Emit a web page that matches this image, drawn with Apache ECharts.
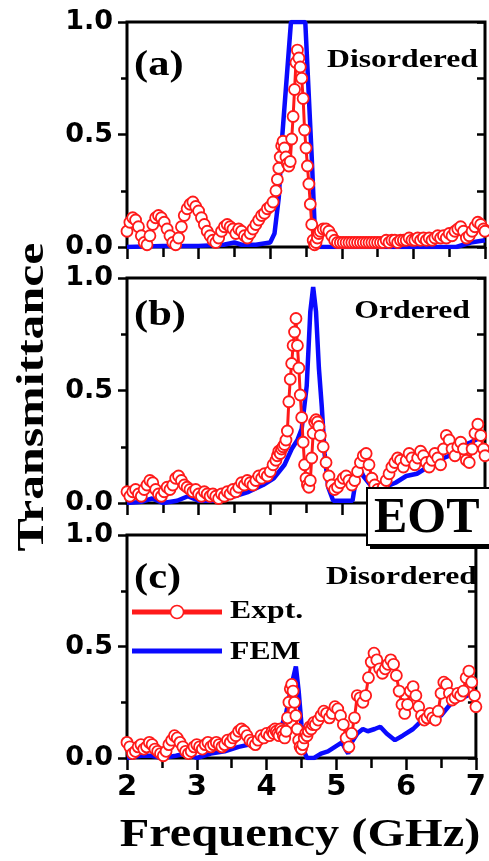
<!DOCTYPE html>
<html>
<head>
<meta charset="utf-8">
<script src="https://cdn.jsdelivr.net/npm/echarts/dist/echarts.min.js"></script>
<style>
  html, body { margin: 0; padding: 0; background: #fff; }
  #chart { width: 489px; height: 861px; }
</style>
</head>
<body>
<div id="chart"></div>
<script>
// Measured frequency sweep (GHz), shared by the three experimental traces
const exptFreq = [
  2.00,2.04,2.08,2.12,2.16,2.20,2.24,2.28,2.32,2.36,
  2.40,2.44,2.48,2.52,2.56,2.60,2.64,2.68,2.72,2.76,
  2.80,2.84,2.88,2.92,2.96,3.00,3.04,3.08,3.12,3.16,
  3.20,3.24,3.28,3.32,3.36,3.40,3.44,3.48,3.52,3.56,
  3.60,3.64,3.68,3.72,3.76,3.80,3.84,3.88,3.92,3.96,
  4.00,4.04,4.08,
  4.10,4.12,4.14,4.16,4.18,4.20,4.22,4.24,4.26,4.28,
  4.30,4.32,4.34,4.36,4.38,4.40,4.42,4.44,4.46,4.48,
  4.50,4.52,4.54,4.56,4.58,4.60,4.62,4.64,4.66,4.68,4.70,
  4.74,4.78,4.82,4.86,4.90,4.94,4.98,
  5.02,5.06,5.10,5.14,5.18,5.22,5.26,5.30,5.34,5.38,
  5.42,5.46,5.50,5.54,5.58,5.62,5.66,5.70,5.74,5.78,
  5.82,5.86,5.90,5.94,5.98,
  6.02,6.06,6.10,6.14,6.18,6.22,6.26,6.30,6.34,6.38,
  6.42,6.46,6.50,6.54,6.58,6.62,6.66,6.70,6.74,6.78,
  6.82,6.86,6.90,6.94,6.98,
  7.00
];

// (a) disordered - measured transmittance
const exptA = [
  0.07,0.11,0.13,0.12,0.09,0.05,0.02,0.01,0.05,0.10,
  0.13,0.14,0.13,0.11,0.08,0.05,0.02,0.01,0.04,0.09,
  0.14,0.17,0.19,0.20,0.18,0.16,0.13,0.10,0.07,0.05,
  0.03,0.02,0.04,0.07,0.09,0.10,0.09,0.08,0.06,0.08,
  0.07,0.05,0.04,0.06,0.08,0.10,0.12,0.14,0.15,0.17,
  0.18,0.20,0.25,
  0.30,0.35,0.40,0.45,0.47,0.44,0.40,0.37,0.36,0.38,
  0.48,0.58,0.70,0.82,0.875,0.84,0.80,0.75,0.66,0.52,
  0.44,0.36,0.28,0.19,0.10,0.03,0.01,0.02,0.04,0.06,0.07,
  0.08,0.08,0.07,0.05,0.03,0.02,0.02,
  0.02,0.02,0.02,0.02,0.02,0.02,0.02,0.02,0.02,0.02,
  0.02,0.02,0.02,0.02,0.02,0.03,0.02,0.03,0.03,0.02,
  0.03,0.03,0.03,0.04,0.03,
  0.03,0.04,0.03,0.04,0.03,0.04,0.03,0.04,0.05,0.04,
  0.05,0.04,0.06,0.05,0.07,0.08,0.09,0.07,0.04,0.05,
  0.07,0.09,0.11,0.10,0.08,
  0.07
];

// (b) ordered - measured transmittance
const exptB = [
  0.05,0.03,0.05,0.06,0.04,0.03,0.06,0.08,0.10,0.09,
  0.06,0.04,0.03,0.05,0.07,0.06,0.08,0.11,0.12,0.10,
  0.08,0.07,0.06,0.05,0.06,0.04,0.03,0.05,0.04,0.03,
  0.04,0.03,0.02,0.04,0.03,0.05,0.04,0.06,0.05,0.07,
  0.09,0.08,0.10,0.09,0.08,0.10,0.12,0.11,0.13,0.12,
  0.14,0.17,0.19,
  0.21,0.23,0.22,0.24,0.25,0.26,0.28,0.32,0.45,0.55,
  0.62,0.70,0.76,0.82,0.70,0.60,0.48,0.38,0.27,0.17,
  0.11,0.08,0.07,0.10,0.20,0.31,0.36,0.37,0.36,0.34,0.30,
  0.25,0.18,0.12,0.08,0.06,0.07,0.09,
  0.11,0.12,0.10,0.08,0.10,0.14,0.18,0.21,0.22,0.17,
  0.11,0.08,0.06,0.05,0.07,0.10,0.13,0.16,0.18,0.20,
  0.19,0.16,0.19,0.22,0.20,
  0.17,0.20,0.23,0.21,0.18,0.16,0.19,0.22,0.20,0.17,
  0.24,0.30,0.28,0.24,0.21,0.25,0.27,0.24,0.19,0.18,
  0.24,0.31,0.35,0.30,0.24,
  0.21
];

// (c) disordered - measured transmittance
const exptC = [
  0.07,0.05,0.02,0.03,0.05,0.06,0.04,0.05,0.07,0.06,
  0.04,0.03,0.02,0.01,0.03,0.06,0.08,0.10,0.09,0.07,
  0.05,0.03,0.02,0.03,0.05,0.06,0.05,0.04,0.06,0.07,
  0.05,0.06,0.07,0.06,0.05,0.06,0.08,0.07,0.09,0.10,
  0.12,0.13,0.12,0.10,0.08,0.07,0.06,0.08,0.10,0.09,
  0.11,0.10,0.12,
  0.11,0.13,0.12,0.11,0.10,0.13,0.12,0.10,0.09,0.12,
  0.18,0.25,0.31,0.33,0.30,0.25,0.19,0.13,0.08,0.05,
  0.04,0.06,0.09,0.11,0.10,0.12,0.14,0.13,0.15,0.16,0.15,
  0.17,0.19,0.21,0.20,0.18,0.20,0.23,
  0.22,0.19,0.15,0.09,0.05,0.11,0.18,0.28,0.27,0.25,
  0.28,0.36,0.43,0.47,0.44,0.40,0.38,0.40,0.42,0.44,
  0.42,0.37,0.30,0.24,0.20,
  0.24,0.30,0.32,0.28,0.23,0.19,0.17,0.18,0.20,0.18,
  0.17,0.21,0.29,0.34,0.33,0.29,0.26,0.27,0.29,0.28,
  0.30,0.36,0.39,0.34,0.28,
  0.23
];

// FEM simulation, [frequency GHz, transmittance]
const femA = [[2.0,0.0],[2.5,0.005],[3.0,0.005],[3.35,0.01],[3.5,0.02],[3.6,0.01],[3.8,0.01],
  [4.0,0.02],[4.06,0.06],[4.12,0.22],[4.17,0.5],[4.29,1.0],[4.49,1.0],[4.58,0.4],[4.62,0.1],
  [4.65,0.0],[6.6,0.0],[6.8,0.02],[7.0,0.03]];

const femB = [[2.0,0.0],[2.2,0.005],[2.35,0.02],[2.5,0.0],[2.7,0.01],[2.85,0.03],[3.0,0.01],
  [3.2,0.01],[3.5,0.03],[3.7,0.05],[3.9,0.08],[4.05,0.11],[4.2,0.17],[4.3,0.24],[4.38,0.28],
  [4.44,0.33],[4.51,0.52],[4.56,0.85],[4.6,0.96],[4.64,0.85],[4.68,0.6],[4.72,0.43],[4.76,0.22],
  [4.81,0.07],[4.88,0.01],[5.15,0.01],[5.23,0.17],[5.3,0.12],[5.4,0.08],[5.5,0.06],[5.6,0.07],
  [5.75,0.09],[5.9,0.12],[6.05,0.13],[6.2,0.16],[6.35,0.19],[6.5,0.21],[6.65,0.25],[6.8,0.27],[7.0,0.3]];

const femC = [[2.0,0.0],[2.2,0.01],[2.35,0.01],[2.5,0.0],[2.7,0.01],[2.85,0.02],[3.0,0.0],
  [3.2,0.02],[3.4,0.03],[3.6,0.05],[3.75,0.06],[3.9,0.07],[4.05,0.09],[4.2,0.13],[4.28,0.2],
  [4.36,0.33],[4.42,0.41],[4.46,0.30],[4.5,0.15],[4.55,0.02],[4.58,0.0],[4.68,0.0],[4.78,0.02],
  [4.88,0.03],[4.98,0.05],[5.08,0.07],[5.13,0.04],[5.17,0.02],[5.22,0.07],[5.3,0.11],[5.38,0.13],
  [5.45,0.12],[5.55,0.13],[5.63,0.14],[5.72,0.11],[5.84,0.08],[5.95,0.1],[6.1,0.13],[6.23,0.17],
  [6.35,0.18],[6.5,0.19],[6.63,0.24],[6.75,0.26],[6.88,0.28],[7.0,0.3]];

const panelTags = ['(a)', '(b)', '(c)'];
const panelNotes = ['Disordered', 'Ordered', 'Disordered'];
const seriesNames = ['Expt.', 'FEM'];
const xTitle = 'Frequency (GHz)';
const yTitle = 'Transmittance';
const boxLabel = 'EOT';

const RED = '#ff1a1a';
const BLUE = '#0a0aff';
const SERIF = '"Liberation Serif", "Times New Roman", serif';
const SANS = '"DejaVu Sans", Arial, sans-serif';

const exptData = [exptA, exptB, exptC];
const femData = [femA, femB, femC];

const panels = [
  { top: 22, height: 225 },
  { top: 278, height: 225 },
  { top: 535, height: 223 }
];
const LEFT = 127, WIDTH = 358;

const tickLine = { color: '#000', width: 2.5 };

const grid = [], xAxis = [], yAxis = [], series = [];
panels.forEach((p, i) => {
  grid.push({
    left: LEFT, top: p.top, width: WIDTH, height: p.height,
    show: true, borderColor: '#000', borderWidth: 3, backgroundColor: 'transparent'
  });
  // bottom axis (labels only on the lowest panel)
  xAxis.push({
    gridIndex: i, type: 'value', min: 2, max: 7, interval: 1, position: 'bottom',
    axisLine: { show: false },
    axisTick: { show: true, inside: false, length: 12, lineStyle: tickLine },
    minorTick: { show: true, splitNumber: 2, length: 7, lineStyle: tickLine },
    splitLine: { show: false },
    axisLabel: {
      show: i === 2, margin: 15, color: '#000', fontFamily: SANS,
      fontWeight: 'bold', fontSize: 29
    }
  });
  // top mirror axis
  xAxis.push({
    gridIndex: i, type: 'value', min: 2, max: 7, interval: 1, position: 'top',
    axisLine: { show: false },
    axisTick: { show: true, inside: true, length: 10, lineStyle: tickLine },
    minorTick: { show: true, splitNumber: 2, length: 10, lineStyle: tickLine },
    splitLine: { show: false }, axisLabel: { show: false }
  });
  yAxis.push({
    gridIndex: i, type: 'value', min: 0, max: 1, interval: 0.5, position: 'left',
    axisLine: { show: false },
    axisTick: { show: true, inside: false, length: 9, lineStyle: tickLine },
    minorTick: { show: true, splitNumber: 2, length: 6, lineStyle: tickLine },
    splitLine: { show: false },
    axisLabel: {
      margin: 14, color: '#000', fontFamily: SANS, fontWeight: 'bold', fontSize: 27,
      formatter: v => v.toFixed(1)
    }
  });
  yAxis.push({
    gridIndex: i, type: 'value', min: 0, max: 1, interval: 0.5, position: 'right',
    axisLine: { show: false },
    axisTick: { show: true, inside: true, length: 8, lineStyle: tickLine },
    minorTick: { show: true, splitNumber: 2, length: 8, lineStyle: tickLine },
    splitLine: { show: false }, axisLabel: { show: false }
  });

  series.push({
    name: seriesNames[1], type: 'line', xAxisIndex: 2 * i, yAxisIndex: 2 * i,
    data: femData[i], symbol: 'none', clip: true, z: 2,
    lineStyle: { color: BLUE, width: 4.5 }
  });
  series.push({
    name: seriesNames[0], type: 'line', xAxisIndex: 2 * i, yAxisIndex: 2 * i,
    data: exptFreq.map((f, k) => [f, exptData[i][k]]),
    symbol: 'circle', symbolSize: 11, showAllSymbol: true, clip: true, z: 3,
    lineStyle: { color: RED, width: 3 },
    itemStyle: { color: '#fff', borderColor: RED, borderWidth: 1.8 }
  });
});

function label(text, x, y, size, align, sx, extra) {
  return Object.assign({
    type: 'text', x: x, y: y, scaleX: sx || 1, z: 100,
    style: {
      text: text, fill: '#000', font: 'bold ' + size + 'px ' + SERIF,
      align: align, verticalAlign: 'middle'
    }
  }, extra || {});
}

const graphic = [];
// panel tags and notes
const tagY = [66, 316, 579];
const noteY = [60, 311, 577];
const noteRight = [478, 470, 477];
panels.forEach((p, i) => {
  graphic.push(label(panelTags[i], 134, tagY[i], 36, 'left', 1.18));
  graphic.push(label(panelNotes[i], noteRight[i], noteY[i], 26, 'right', 1.22));
});

// legend in panel (c)
graphic.push({ type: 'line', z: 100, shape: { x1: 132, y1: 612, x2: 222, y2: 612 },
  style: { stroke: RED, lineWidth: 5 } });
graphic.push({ type: 'circle', z: 101, shape: { cx: 177, cy: 612, r: 6.5 },
  style: { fill: '#fff', stroke: RED, lineWidth: 1.5 } });
graphic.push({ type: 'line', z: 100, shape: { x1: 132, y1: 651, x2: 222, y2: 651 },
  style: { stroke: BLUE, lineWidth: 5 } });
graphic.push(label(seriesNames[0], 230, 611, 26, 'left', 1.22));
graphic.push(label(seriesNames[1], 230, 652, 26, 'left', 1.22));

// boxed tag
graphic.push({ type: 'rect', z: 100, shape: { x: 370, y: 491, width: 130, height: 58 },
  style: { fill: '#000' } });
graphic.push({ type: 'rect', z: 101, shape: { x: 367, y: 488, width: 130, height: 57 },
  style: { fill: '#fff', stroke: '#000', lineWidth: 2 } });
graphic.push(label(boxLabel, 374, 519, 50, 'left', 1.0, { z: 102 }));

// axis titles
graphic.push(label(xTitle, 300, 836, 40, 'center', 1.21));
graphic.push(label(yTitle, 33, 397, 38, 'center', 1.31, { rotation: Math.PI / 2 }));

const chart = echarts.init(document.getElementById('chart'), null, { renderer: 'canvas' });
chart.setOption({
  animation: false,
  backgroundColor: '#fff',
  grid: grid, xAxis: xAxis, yAxis: yAxis, series: series, graphic: graphic
});
</script>
</body>
</html>
